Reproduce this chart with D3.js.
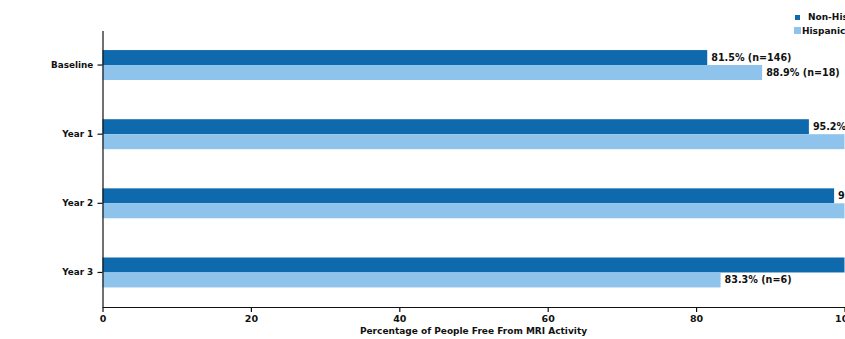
<!DOCTYPE html>
<html>
<head>
<meta charset="utf-8">
<script src="https://cdn.jsdelivr.net/npm/d3@7"></script>
<style>
  html, body { margin: 0; padding: 0; background: #fff; overflow: hidden; }
  svg { display: block; }
  text { font-family: "DejaVu Sans", Verdana, sans-serif; font-weight: bold; fill: #111; }
</style>
</head>
<body>
<svg id="chart" width="960" height="339"></svg>
<script>
// Time points and groups
const categories = ["Baseline", "Year 1", "Year 2", "Year 3"];
const groups = ["Non-Hispanic", "Hispanic"];

// Percentage of people free from MRI activity, per group
const nonHispanicPct = [81.5, 95.2, 98.6, 100];
const hispanicPct = [88.9, 100, 100, 83.3];

// Group sizes at each time point
const nonHispanicN = [146, 42, 72, 21];
const hispanicN = [18, 9, 7, 6];

const xTicks = [0, 20, 40, 60, 80, 100];
const xTitle = "Percentage of People Free From MRI Activity";

const colors = { "Non-Hispanic": "#0f69ad", "Hispanic": "#8ec4ec" };

const rows = categories.map((c, i) => ({
  category: c,
  values: [
    { group: "Non-Hispanic", pct: nonHispanicPct[i], n: nonHispanicN[i] },
    { group: "Hispanic", pct: hispanicPct[i], n: hispanicN[i] }
  ]
}));

const margin = { left: 102.5, top: 30.5, bottom: 32 };
const plotRight = 844.5;
const height = 339;

const svg = d3.select("#chart");

const x = d3.scaleLinear().domain([0, 100]).range([margin.left, plotRight]);
const y = d3.scaleBand().domain(categories)
  .range([margin.top, height - margin.bottom])
  .paddingInner(0.567).paddingOuter(0.283);
const yInner = d3.scaleBand().domain(groups).range([0, y.bandwidth()]);

// Bars
const rowG = svg.append("g").selectAll("g").data(rows).join("g")
  .attr("transform", d => `translate(0,${y(d.category)})`);

rowG.selectAll("rect").data(d => d.values).join("rect")
  .attr("x", x(0))
  .attr("y", d => yInner(d.group))
  .attr("width", d => x(d.pct) - x(0))
  .attr("height", yInner.bandwidth())
  .attr("fill", d => colors[d.group]);

// Value labels
rowG.selectAll("text.val").data(d => d.values).join("text")
  .attr("class", "val")
  .attr("x", d => x(d.pct) + 4)
  .attr("y", d => yInner(d.group) + yInner.bandwidth() / 2)
  .attr("dy", "0.35em")
  .attr("font-size", "9.6px")
  .text(d => `${d3.format(".1f")(d.pct)}% (n=${d.n})`);

// Axes
const xAxis = svg.append("g")
  .attr("transform", `translate(0,${height - margin.bottom})`)
  .call(d3.axisBottom(x).tickValues(xTicks).tickSize(5).tickSizeOuter(0));
xAxis.selectAll("text").attr("font-size", "9.5px").attr("dy", "0.75em");

const yAxis = svg.append("g")
  .attr("transform", `translate(${margin.left},0)`)
  .call(d3.axisLeft(y).tickSize(5).tickSizeOuter(0));
yAxis.selectAll("text").attr("font-size", "8.8px").attr("dx", "-0.15em");

svg.selectAll(".domain, .tick line").attr("stroke", "#111").attr("stroke-width", 1.2);

// Axis title
svg.append("text")
  .attr("x", (margin.left + plotRight) / 2)
  .attr("y", 334)
  .attr("text-anchor", "middle")
  .attr("font-size", "9px")
  .text(xTitle);

// Legend
const legend = svg.append("g");
const legendItems = [
  { group: "Non-Hispanic", sx: 795, sy: 15, size: 5, tx: 808, ty: 17 },
  { group: "Hispanic", sx: 794, sy: 27, size: 7, tx: 802, ty: 31 }
];
legend.selectAll("rect").data(legendItems).join("rect")
  .attr("x", d => d.sx).attr("y", d => d.sy)
  .attr("width", d => d.size).attr("height", d => d.size)
  .attr("fill", d => colors[d.group]);
legend.selectAll("text").data(legendItems).join("text")
  .attr("x", d => d.tx).attr("y", d => d.ty)
  .attr("dy", "0.35em")
  .attr("font-size", "9px")
  .text(d => d.group);
</script>
</body>
</html>
